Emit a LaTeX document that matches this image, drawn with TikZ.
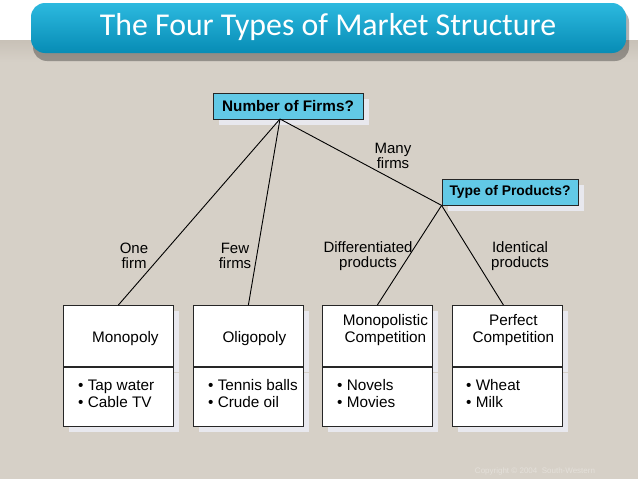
\documentclass[tikz,border=0pt]{standalone}
\usepackage{fontspec}
\setmainfont{Liberation Sans}
\newfontfamily\titlefont{Carlito}
\usetikzlibrary{positioning}
\usetikzlibrary{shadows}

\definecolor{bgbeige}{HTML}{D6D0C7}
\definecolor{bandgray}{HTML}{C8C1B7}
\definecolor{bannertop}{HTML}{2CB9DF}
\definecolor{bannerbot}{HTML}{078CB5}
\definecolor{qcyan}{HTML}{62C9E6}
\definecolor{shadowgray}{HTML}{E8E8EE}
\definecolor{copygray}{HTML}{E4E0DA}

\tikzset{
    question/.style={draw=black!85, fill=qcyan, line width=0.8pt, inner sep=0pt,
        minimum height=26pt, font=\bfseries\fontsize{15.3}{16}\selectfont,
        drop shadow={shadow xshift=6pt, shadow yshift=-6pt, fill=shadowgray, opacity=1}},
    cell/.style={draw=black!85, fill=white, line width=0.8pt, inner sep=0pt,
        minimum width=110pt, drop shadow={shadow xshift=6pt, shadow yshift=-6pt,
        fill=shadowgray, opacity=1}},
    namecell/.style={cell, minimum height=61pt},
    excell/.style={cell, minimum height=59pt},
    boxtext/.style={font=\fontsize{15.3}{17}\selectfont, align=center, inner sep=0pt},
    extext/.style={font=\fontsize{15.3}{17}\selectfont, align=left, inner sep=0pt, anchor=west},
    branch/.style={font=\fontsize{15}{15.5}\selectfont, align=center, inner sep=0pt},
    tree/.style={line width=0.9pt}
}

\begin{document}
\begin{tikzpicture}[x=1pt, y=-1pt]
        % background and banner
        \useasboundingbox (0,0) rectangle (638,479);
        \fill[bgbeige] (0,0) rectangle (638,479);
        \fill[white] (0,0) rectangle (638,40);
        \shade[top color=bandgray, bottom color=bgbeige] (0,40) rectangle (638,62);
        \fill[black, opacity=0.3, rounded corners=14pt] (33,8) rectangle (629,61);
        \shade[top color=bannertop, bottom color=bannerbot, rounded corners=14pt]
            (31,3) rectangle (626,53);
        \node[text=white, font=\titlefont\fontsize{31.8}{33}\selectfont] (title)
            at (328,27) {The Four Types of Market Structure};

        % questions
        \node[question, minimum width=150pt] (firms) at (288,106) {Number of Firms?};
        \node[question, minimum width=136pt, font=\bfseries\fontsize{13.9}{15}\selectfont]
            (products) at (510,192) {Type of Products?};
        \coordinate (firmtip) at (280,119);

        % market structure boxes
        \node[namecell, anchor=north west] (mono) at (63,305) {};
        \node[namecell, anchor=north west] (oligo) at (193,305) {};
        \node[namecell, anchor=north west] (monocomp) at (322,305) {};
        \node[namecell, anchor=north west] (perfect) at (452,305) {};
        \foreach \b in {mono, oligo, monocomp, perfect}
            \node[excell, below=0pt of \b] (\b-ex) {};

        % box texts
        \node[boxtext, anchor=base] (mono-name) at ([xshift=7pt]mono.center |- 0,342) {Monopoly};
        \node[boxtext, anchor=base] (oligo-name) at ([xshift=6pt]oligo.center |- 0,342) {Oligopoly};
        \node[boxtext, anchor=base] (monocomp-name) at ([xshift=8pt]monocomp.center |- 0,342)
            {Monopolistic\\Competition};
        \node[boxtext, anchor=base] (perfect-name) at ([xshift=6pt]perfect.center |- 0,342)
            {Perfect\\Competition};

        \node[extext] (mono-list) at ([xshift=15pt,yshift=3pt]mono-ex.west) {\textbullet\ Tap water\\\textbullet\ Cable TV};
        \node[extext] (oligo-list) at ([xshift=15pt,yshift=3pt]oligo-ex.west) {\textbullet\ Tennis balls\\\textbullet\ Crude oil};
        \node[extext] (monocomp-list) at ([xshift=15pt,yshift=3pt]monocomp-ex.west) {\textbullet\ Novels\\\textbullet\ Movies};
        \node[extext] (perfect-list) at ([xshift=14pt,yshift=3pt]perfect-ex.west) {\textbullet\ Wheat\\\textbullet\ Milk};

        % tree lines
        \draw[tree] (firmtip) -- (mono.north);
        \draw[tree] (firmtip) -- (oligo.north);
        \draw[tree] (firmtip) -- (products.south west);
        \draw[tree] (products.south west) -- (monocomp.north);
        \draw[tree] (products.south west) -- ([xshift=-4pt]perfect.north);

        % branch labels
        \node[branch] (one) at (134,256) {One\\firm};
        \node[branch] (few) at (235,256) {Few\\firms};
        \node[branch] (many) at (393,156) {Many\\firms};
        \node[branch] (diff) at (368,256) {Differentiated\\products};
        \node[branch] (ident) at (520,256) {Identical\\products};

        % copyright
        \node[text=copygray, font=\fontsize{8}{9}\selectfont] (copy) at (535,471)
            {Copyright \textcopyright\ 2004\ \ South-Western};
    \end{tikzpicture}
\end{document}
